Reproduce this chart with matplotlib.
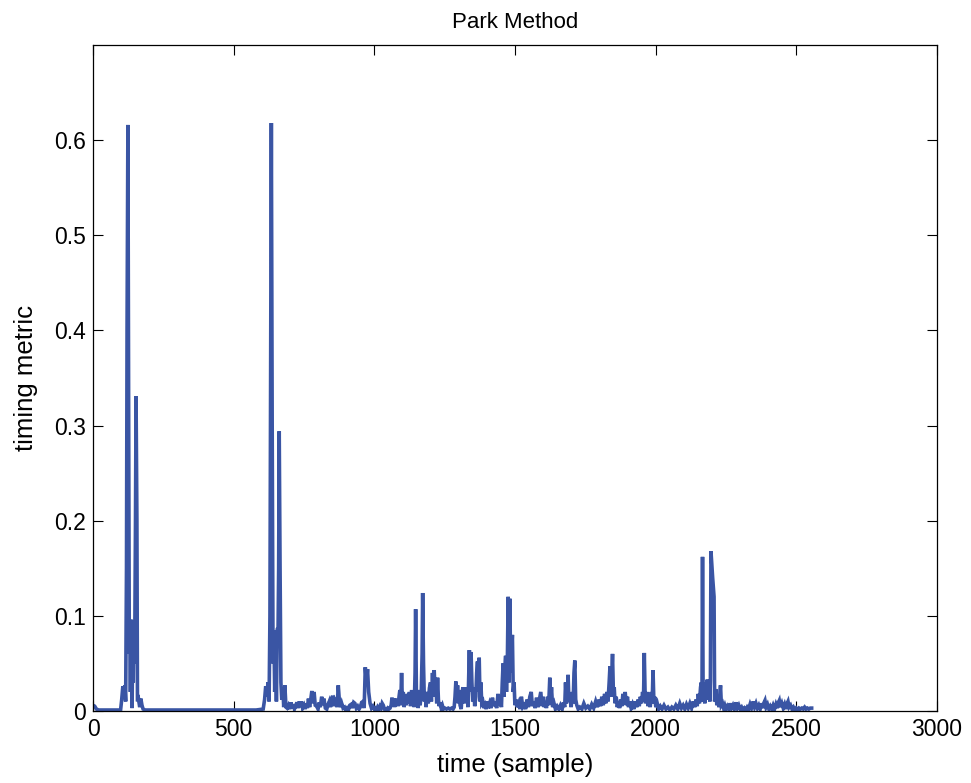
import matplotlib
matplotlib.use("Agg")
import matplotlib.pyplot as plt

plt.rcParams['font.family'] = ['Liberation Sans', 'DejaVu Sans']

# timing metric, split by stretch of the record
# start + first burst
s_burst1 = [0, 6, 12, 20, 60, 98, 102, 106, 110, 113,
            116, 119, 121, 124, 127, 129, 131, 133, 135, 137,
            139, 141, 143, 145, 147, 149, 151, 153, 156, 158,
            162, 166, 170, 174, 178, 185]
m_burst1 = [.006, .005, .002, .001, .001, .001, .012, .026, .015, .027,
            .010, .150, .400, .616, .300, .060, .090, .020, .096, .040,
            .003, .080, .030, .095, .050, .100, .200, .331, .200, .010,
            .012, .004, .013, .006, .002, .001]

# quiet stretch
s_quiet = [300, 450, 580, 605]
m_quiet = [.001, .001, .001, .002]

# second burst
s_burst2 = [610, 614, 618, 622, 626, 629, 632, 634, 637, 640,
            643, 646, 649, 652, 655, 658, 660, 662, 665, 668,
            671, 675, 678]
m_burst2 = [.012, .026, .015, .030, .010, .100, .400, .618, .300, .050,
            .085, .020, .080, .010, .086, .088, .150, .294, .150, .030,
            .012, .025, .004]

# noise 680-1010
s_noise1 = [682, 686, 690, 695, 700, 704, 708, 712, 716, 720,
            725, 729, 733, 737, 741, 745, 750, 754, 758, 762,
            766, 770, 774, 778, 782, 786, 790, 795, 800, 804,
            808, 813, 817, 821, 826, 831, 836, 840, 844, 848,
            852, 856, 860, 864, 868, 872, 876, 880, 884, 889,
            894, 898, 903, 908, 913, 918, 922, 927, 931, 936,
            941, 946, 950, 955, 960, 964, 968, 972, 976, 980,
            985, 990, 995, 1000, 1004, 1008]
m_noise1 = [.027, .004, .003, .006, .002, .009, .003, .007, .002, .005,
            .009, .003, .010, .004, .010, .003, .006, .002, .008, .003,
            .013, .004, .012, .021, .008, .020, .006, .005, .002, .009,
            .004, .015, .006, .013, .003, .002, .007, .010, .004, .012,
            .016, .005, .012, .010, .004, .027, .010, .004, .008, .003,
            .004, .001, .003, .001, .006, .007, .003, .009, .008, .003,
            .005, .002, .004, .009, .010, .003, .046, .030, .044, .020,
            .008, .003, .005, .002, .003, .001]

# noise 1010-1405
s_noise2 = [1012, 1016, 1020, 1024, 1028, 1032, 1036, 1040, 1044, 1048,
            1052, 1056, 1060, 1063, 1066, 1069, 1072, 1075, 1078, 1082,
            1085, 1088, 1091, 1094, 1097, 1100, 1103, 1106, 1110, 1113,
            1117, 1121, 1125, 1129, 1133, 1136, 1139, 1142, 1145, 1147,
            1150, 1153, 1156, 1160, 1163, 1167, 1170, 1172, 1175, 1178,
            1181, 1184, 1188, 1192, 1196, 1200, 1203, 1207, 1210, 1213,
            1216, 1219, 1222, 1225, 1228, 1231, 1234, 1238, 1242, 1246,
            1251, 1257, 1263, 1269, 1275, 1280, 1284, 1287, 1290, 1293,
            1296, 1299, 1302, 1305, 1309, 1312, 1315, 1319, 1323, 1327,
            1330, 1333, 1336, 1338, 1341, 1344, 1347, 1350, 1354, 1357,
            1361, 1364, 1367, 1370, 1373, 1376, 1379, 1382, 1386, 1390,
            1394, 1398, 1402, 1405]
m_noise2 = [.004, .002, .005, .003, .008, .006, .002, .002, .001, .003,
            .002, .003, .006, .014, .005, .013, .004, .013, .006, .012,
            .005, .015, .022, .006, .040, .008, .020, .004, .016, .006,
            .018, .008, .020, .005, .022, .008, .020, .004, .040, .107,
            .010, .022, .003, .022, .006, .020, .060, .124, .050, .010,
            .020, .004, .020, .008, .024, .030, .010, .040, .015, .043,
            .020, .030, .008, .035, .012, .005, .009, .003, .006, .002,
            .003, .002, .003, .002, .003, .002, .004, .015, .031, .010,
            .027, .008, .022, .006, .002, .018, .025, .008, .025, .010,
            .020, .004, .040, .064, .020, .062, .030, .010, .025, .005,
            .015, .040, .052, .020, .056, .010, .030, .008, .010, .003,
            .006, .002, .010, .003]

# noise 1405-2160
s_noise3 = [1410, 1415, 1420, 1425, 1430, 1435, 1440, 1444, 1448, 1452,
            1455, 1458, 1461, 1464, 1467, 1470, 1473, 1476, 1479, 1482,
            1485, 1488, 1491, 1494, 1497, 1500, 1504, 1508, 1513, 1518,
            1523, 1528, 1533, 1538, 1543, 1548, 1553, 1558, 1562, 1567,
            1572, 1577, 1582, 1587, 1592, 1596, 1600, 1604, 1608, 1612,
            1616, 1620, 1624, 1627, 1630, 1634, 1639, 1644, 1650, 1656,
            1662, 1668, 1673, 1677, 1680, 1683, 1686, 1689, 1692, 1696,
            1700, 1704, 1707, 1710, 1713, 1716, 1720, 1725, 1731, 1738,
            1745, 1752, 1759, 1766, 1773, 1780, 1787, 1793, 1799, 1804,
            1809, 1814, 1819, 1823, 1827, 1831, 1835, 1838, 1841, 1844,
            1847, 1850, 1853, 1856, 1860, 1864, 1868, 1872, 1876, 1880,
            1884, 1888, 1892, 1896, 1900, 1904, 1908, 1913, 1918, 1923,
            1928, 1933, 1938, 1942, 1946, 1950, 1954, 1957, 1960, 1963,
            1966, 1970, 1973, 1977, 1981, 1985, 1988, 1991, 1994, 1997,
            2001, 2006, 2011, 2017, 2023, 2030, 2037, 2044, 2051, 2058,
            2065, 2072, 2079, 2086, 2092, 2098, 2104, 2110, 2116, 2122,
            2128, 2134, 2139, 2144, 2148, 2152, 2156, 2160]
m_noise3 = [.008, .003, .014, .005, .010, .003, .018, .006, .012, .004,
            .030, .050, .015, .045, .058, .020, .050, .120, .030, .118,
            .040, .060, .080, .020, .030, .006, .012, .004, .008, .002,
            .015, .004, .006, .002, .012, .004, .015, .020, .005, .010,
            .003, .014, .004, .012, .020, .005, .015, .004, .010, .003,
            .015, .006, .035, .010, .025, .004, .008, .002, .005, .002,
            .006, .002, .009, .004, .030, .008, .012, .038, .010, .015,
            .004, .020, .008, .040, .053, .012, .006, .002, .004, .002,
            .008, .003, .005, .002, .007, .003, .010, .004, .012, .005,
            .015, .006, .018, .008, .020, .010, .030, .047, .015, .035,
            .060, .020, .025, .008, .015, .004, .010, .003, .012, .005,
            .018, .008, .020, .006, .015, .004, .010, .003, .007, .002,
            .010, .004, .012, .005, .015, .008, .020, .010, .061, .015,
            .008, .020, .005, .012, .004, .020, .008, .043, .010, .015,
            .004, .008, .002, .005, .002, .006, .002, .004, .001, .004,
            .002, .006, .002, .008, .003, .006, .002, .007, .003, .008,
            .003, .010, .004, .012, .005, .018, .008, .025]

# last burst + tail
s_tail = [2163, 2165, 2167, 2169, 2172, 2175, 2178, 2181, 2184, 2187,
          2190, 2193, 2195, 2197, 2203, 2208, 2210, 2214, 2218, 2222,
          2226, 2229, 2231, 2234, 2238, 2242, 2246, 2250, 2255, 2260,
          2265, 2270, 2275, 2280, 2286, 2291, 2296, 2301, 2306, 2311,
          2316, 2321, 2326, 2331, 2336, 2341, 2347, 2352, 2357, 2362,
          2367, 2372, 2377, 2382, 2386, 2389, 2393, 2398, 2403, 2408,
          2413, 2418, 2423, 2428, 2433, 2437, 2440, 2444, 2449, 2454,
          2459, 2464, 2468, 2471, 2475, 2480, 2485, 2490, 2495, 2500,
          2505, 2510, 2515, 2520, 2525, 2530, 2535, 2540, 2545, 2550,
          2555]
m_tail = [.030, .010, .162, .020, .025, .008, .030, .012, .033, .015,
          .030, .010, .032, .168, .140, .120, .010, .023, .006, .010,
          .004, .020, .027, .006, .008, .003, .006, .002, .005, .002,
          .008, .003, .006, .002, .009, .003, .006, .002, .004, .001,
          .003, .001, .004, .002, .007, .003, .010, .004, .008, .003,
          .006, .002, .008, .003, .009, .011, .004, .007, .002, .005,
          .002, .006, .002, .007, .003, .009, .011, .004, .008, .003,
          .007, .002, .008, .010, .004, .006, .002, .004, .001, .003,
          .001, .003, .002, .003, .002, .004, .002, .003, .002, .003,
          .003]

samples = s_burst1 + s_quiet + s_burst2 + s_noise1 + s_noise2 + s_noise3 + s_tail
metric = m_burst1 + m_quiet + m_burst2 + m_noise1 + m_noise2 + m_noise3 + m_tail

fig = plt.figure(figsize=(9.71, 7.83), dpi=100)
ax = fig.add_axes([0.0958, 0.092, 0.869, 0.8505])
ax.plot(samples, metric, color='#3A55A4', lw=2.6, solid_joinstyle='miter')

ax.set_xlim(0, 3000)
ax.set_ylim(0, 0.7)
ax.set_xticks([0, 500, 1000, 1500, 2000, 2500, 3000])
ax.set_yticks([0, 0.1, 0.2, 0.3, 0.4, 0.5, 0.6])
ax.set_yticklabels(['0', '0.1', '0.2', '0.3', '0.4', '0.5', '0.6'])
ax.tick_params(direction='in', top=True, right=True, length=7, width=0.8,
               labelsize=16.5, pad=5)
for s in ax.spines.values():
    s.set_linewidth(0.9)

ax.set_title("Park Method", fontsize=16, pad=12)
ax.set_xlabel("time (sample)", fontsize=18.5, labelpad=9)
ax.set_ylabel("timing metric", fontsize=18.5, labelpad=12)

fig.savefig("out.png", dpi=100)
